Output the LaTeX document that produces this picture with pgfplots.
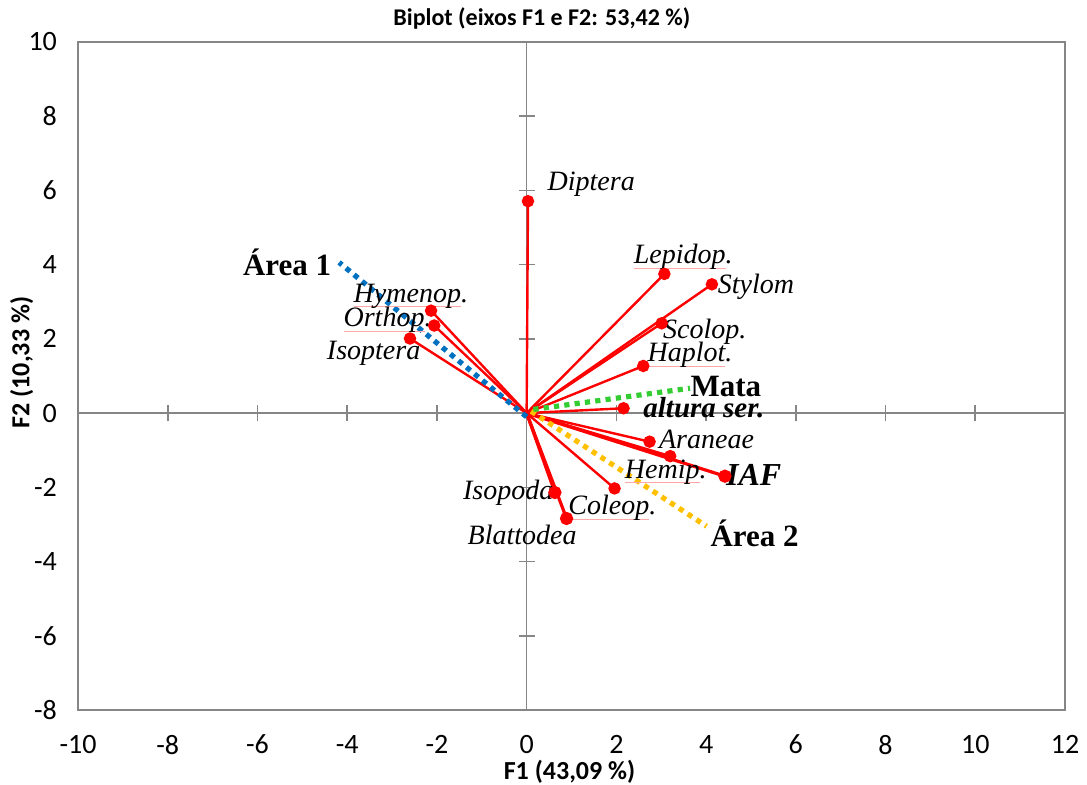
\documentclass[border=0pt]{standalone}
\usepackage{pgfplots}
\pgfplotsset{compat=1.18}
\usepackage{fontspec}
\setmainfont{Liberation Serif}
\newfontfamily\calibri{Carlito}
\definecolor{axgray}{HTML}{868686}
\definecolor{vred}{HTML}{FF0000}
\definecolor{ablue}{HTML}{0070C0}
\definecolor{agreen}{HTML}{33CC33}
\definecolor{ayellow}{HTML}{FFC000}
\newcommand\ul[1]{\setbox0\hbox{#1}\rlap{\color{red!35}\rule[-2.5pt]{\wd0}{0.5pt}}\box0}
\newcommand\lab{\fontsize{14}{16}\selectfont\itshape}
\newcommand\blab{\fontsize{15.5}{17}\selectfont\bfseries}
\begin{document}
\begin{tikzpicture}
\pgfplotsset{common/.style={scale only axis, width=493.5pt, height=334pt,
  xmin=-10, xmax=12, ymin=-8, ymax=10,
  xtick={-10,-8,...,12}, ytick={-8,-6,...,10}},
  vec/.style={vred, line width=1.2pt, mark=*, mark indices={2},
  mark options={fill=vred, draw=vred, solid}, mark size=2.5pt},
  sup/.style={line width=2.6pt, dash pattern=on 2.6pt off 2.6pt, no marks}}
\begin{axis}[common, axis lines=middle, axis line style={axgray, line width=0.8pt, -},
  xticklabels={}, yticklabels={}, tick align=center, major tick length=8pt,
  tick style={axgray, line width=0.8pt}]
\end{axis}
\begin{axis}[common, axis line style={axgray, line width=0.8pt}, tick style={draw=none},
  clip=false,
  ticklabel style={font=\calibri\fontsize{14}{16}\selectfont},
  /pgf/number format/assume math mode=true,
  yticklabel style={xshift=-7pt}, xticklabel style={yshift=-9pt},
  title={Biplot (eixos F1 e F2: 53,42 \%)},
  title style={font=\calibri\bfseries\fontsize{12}{14}\selectfont, at={(axis description cs:0.47,1.017)}, anchor=center},
  xlabel={F1 (43,09 \%)}, ylabel={F2 (10,33 \%)},
  xlabel style={font=\calibri\bfseries\fontsize{13}{15}\selectfont, at={(axis description cs:0.498,-0.093)}, anchor=center},
  ylabel style={font=\calibri\bfseries\fontsize{13}{15}\selectfont, at={(axis description cs:-0.057,0.52)}, anchor=center, rotate=0},
  ]
% variable vectors
\addplot[vec] coordinates {(0,0) (0.03,5.71)};   % Diptera
\addplot[vec] coordinates {(0,0) (3.07,3.75)};   % Lepidop.
\addplot[vec] coordinates {(0,0) (4.13,3.47)};   % Stylom
\addplot[vec] coordinates {(0,0) (3.01,2.42)};   % Scolop.
\addplot[vec] coordinates {(0,0) (2.60,1.27)};   % Haplot.
\addplot[vec] coordinates {(0,0) (2.16,0.13)};   % altura ser.
\addplot[vec] coordinates {(0,0) (2.74,-0.77)};  % Araneae
\addplot[vec] coordinates {(0,0) (3.20,-1.16)};  % Hemip.
\addplot[vec, line width=1.6pt] coordinates {(0,0) (4.42,-1.70)};  % IAF
\addplot[vec] coordinates {(0,0) (1.96,-2.03)};  % Coleop.
\addplot[vec, line width=1.6pt] coordinates {(0,0) (0.63,-2.14)};  % Isopoda
\addplot[vec, line width=1.6pt] coordinates {(0,0) (0.89,-2.84)};  % Blattodea
\addplot[vec] coordinates {(0,0) (-2.13,2.76)};  % Hymenop.
\addplot[vec] coordinates {(0,0) (-2.06,2.36)};  % Orthop.
\addplot[vec] coordinates {(0,0) (-2.60,2.01)};  % Isoptera
% supplementary (dotted)
\addplot[sup, ablue] coordinates {(0,-0.1) (-4.18,4.06)};   % Area 1
\addplot[sup, ayellow] coordinates {(0.1,0.05) (4.01,-3.05)}; % Area 2
\addplot[sup, agreen] coordinates {(0.15,0.1) (3.64,0.67)};   % Mata
% labels
\node at (axis cs:1.44,6.17) {\lab Diptera};
\node at (axis cs:3.49,4.20) {\lab \ul{Lepidop}.};
\node at (axis cs:5.11,3.40) {\lab Stylom};
\node at (axis cs:3.97,2.18) {\lab Scolop.};
\node at (axis cs:3.64,1.56) {\lab \ul{Haplot}.};
\node at (axis cs:4.44,0.73) {\blab Mata};
\node at (axis cs:3.95,0.16) {\fontsize{14.5}{16}\selectfont\bfseries\itshape altura ser.};
\node at (axis cs:4.01,-0.70) {\lab Araneae};
\node at (axis cs:5.06,-1.67) {\fontsize{16}{18}\selectfont\bfseries\itshape IAF};
\node at (axis cs:3.10,-1.59) {\lab \ul{Hemip}.};
\node at (axis cs:-0.41,-2.16) {\lab Isopoda};
\node at (axis cs:1.91,-2.56) {\lab \ul{Coleop}.};
\node at (axis cs:-0.10,-3.29) {\lab Blattodea};
\node at (axis cs:5.08,-3.24) {\blab Área 2};
\node at (axis cs:-5.34,4.07) {\blab Área 1};
\node at (axis cs:-2.58,3.15) {\lab \ul{Hymenop}.};
\node at (axis cs:-3.10,2.51) {\lab \ul{Orthop}.};
\node at (axis cs:-3.41,1.62) {\lab Isoptera};
\end{axis}
\pgfresetboundingbox
\path[use as bounding box] (-39pt,-37.5pt) rectangle (504.5pt,355pt);
\end{tikzpicture}
\end{document}
